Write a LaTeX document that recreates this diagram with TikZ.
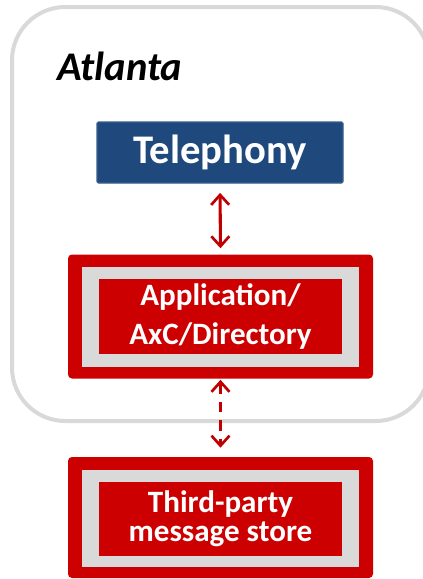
\documentclass[tikz,border=0pt]{standalone}
\usepackage{fontspec}
\setmainfont{Carlito}
\usetikzlibrary{arrows.meta}
\definecolor{frame}{HTML}{D9D9D9}
\definecolor{boxred}{HTML}{CC0000}
\definecolor{arrowred}{HTML}{C00000}
\definecolor{teleblue}{HTML}{1F497D}
\definecolor{teleedge}{HTML}{385D8A}
\begin{document}
\begin{tikzpicture}[x=0.75pt,y=-0.75pt,
  redouter/.style={rectangle, fill=boxred, rounded corners=3pt,
    minimum width={305*0.75pt}, minimum height={124*0.75pt}, inner sep=0pt},
  graymid/.style={rectangle, fill=frame,
    minimum width={277*0.75pt}, minimum height={100*0.75pt}, inner sep=0pt},
  redinner/.style={rectangle, fill=boxred, text=white, align=center,
    minimum width={243*0.75pt}, minimum height={75*0.75pt}, inner sep=0pt,
    font=\bfseries\fontsize{23pt}{28pt}\selectfont},
  link/.style={draw=arrowred, line width=2.3pt,
    >={Straight Barb[length=7.5pt,width=13.5pt,line width=2pt]}, <->},
  dashlink/.style={link, line width=2pt, dash pattern=on 8pt off 6pt}
]
\useasboundingbox (0,0) rectangle (423,579);

% site frame
\draw[frame, line width=3pt, rounded corners=40pt] (12,7) rectangle (429,421);
\node[anchor=base west, inner sep=0pt, font=\bfseries\itshape\fontsize{30.5pt}{36pt}\selectfont]
  (site) at (57,80) {Atlanta};

% telephony
\node[rectangle, fill=teleblue, draw=teleedge, line width=0.8pt, rounded corners=1pt,
  minimum width={246*0.75pt}, minimum height={61*0.75pt}, inner sep=0pt,
  text=white, font=\bfseries\fontsize{30.5pt}{36pt}\selectfont]
  (tele) at (220,152.5) {Telephony};

% application server
\node[redouter] (appouter) at (220.5,316.5) {};
\node[graymid] (appgray) at (220.5,317) {};
\node[redinner, font=\bfseries\fontsize{23.3pt}{29pt}\selectfont] (app) at (220.5,316.5) {Application/\\AxC/Directory};

% message store
\node[redouter, minimum height={121*0.75pt}] (storeouter) at (220.5,517.5) {};
\node[graymid, minimum height={97*0.75pt}] (storegray) at (220.5,518.5) {};
\node[redinner, minimum height={74*0.75pt}, font=\bfseries\fontsize{23.3pt}{22pt}\selectfont] (store) at (220.5,519) {Third-party\\message store};

% connectors
\draw[link, shorten <=7pt, shorten >=4.5pt] (tele.south) -- (appouter.north);
\draw[dashlink, shorten <=0.8pt, shorten >=6.8pt] (appouter.south) -- (storeouter.north);
\end{tikzpicture}
\end{document}
